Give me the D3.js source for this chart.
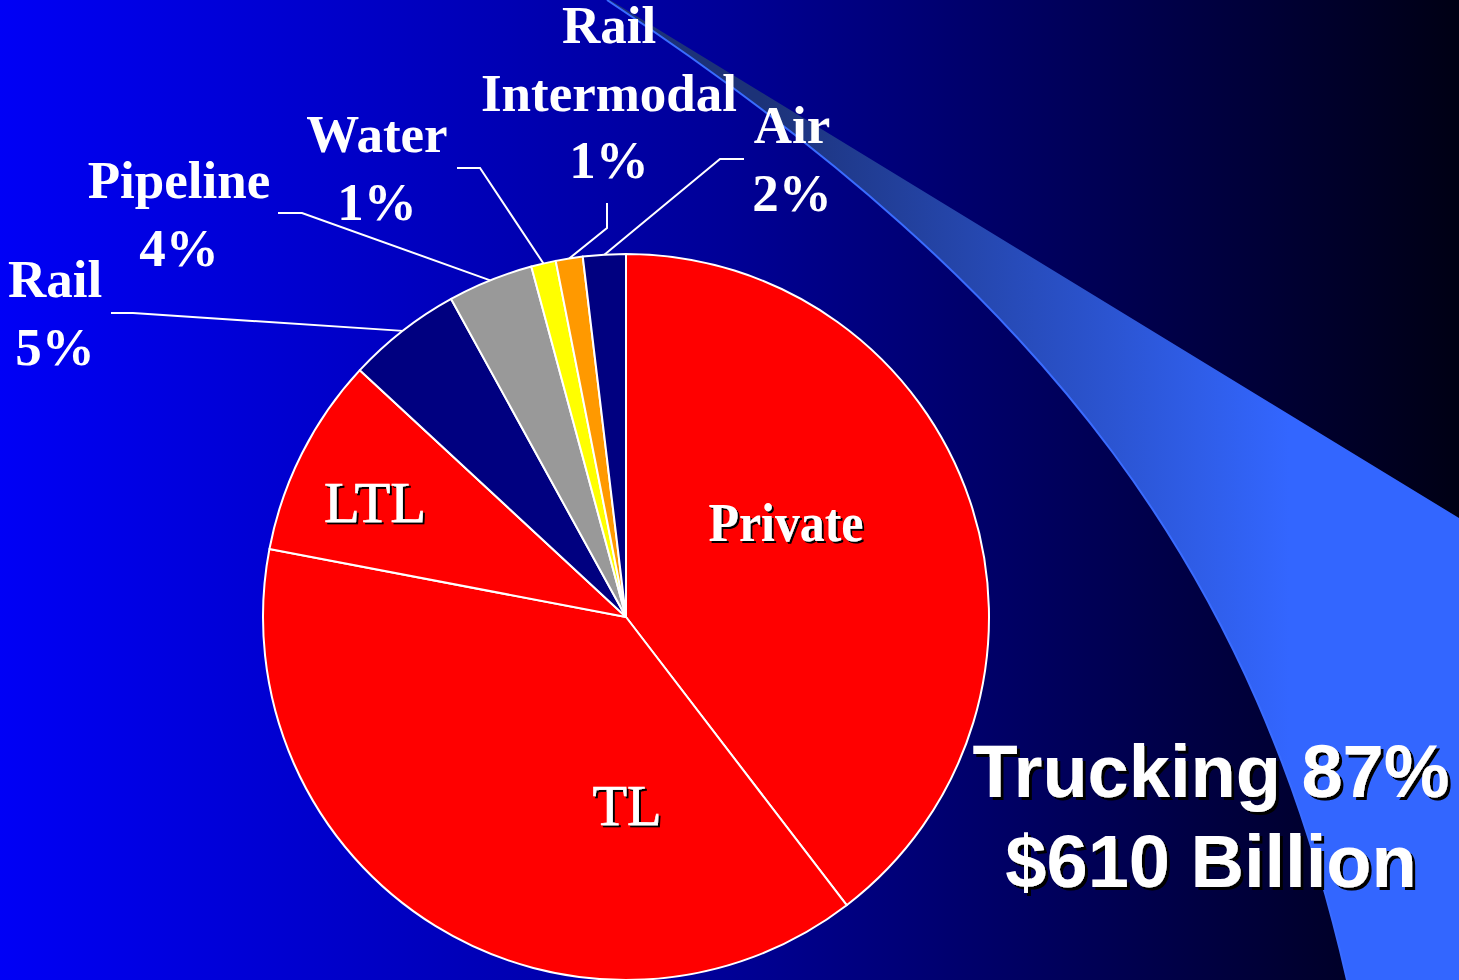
<!DOCTYPE html>
<html>
<head>
<meta charset="utf-8">
<script src="https://cdn.jsdelivr.net/npm/d3@7"></script>
<style>
  html, body { margin: 0; padding: 0; background: #000; }
  svg { display: block; }
</style>
</head>
<body>
<svg id="chart" width="1459" height="980"></svg>
<script>
// ---- data ----
const categories = ["Private", "TL", "LTL", "Rail", "Pipeline", "Water", "Rail Intermodal", "Air"];
const shares     = [39.6, 38.4, 8.9, 5.1, 3.8, 1.1, 1.2, 1.9];
const sliceColors = ["#ff0000", "#ff0000", "#ff0000", "#000080", "#999999", "#ffff00", "#ff9900", "#000080"];
const insideLabels = ["Private", "TL", "LTL"];
const outsideLabels = ["Rail", "Pipeline", "Water", "Rail Intermodal", "Air"];
const summaryLines = ["Trucking 87%", "$610 Billion"];

// ---- layout ----
const W = 1459, H = 980;
const cx = 626, cy = 617, R = 363;

const svg = d3.select("#chart");
const defs = svg.append("defs");

const bg = defs.append("linearGradient").attr("id", "bg")
  .attr("x1", 0).attr("y1", 0).attr("x2", 1).attr("y2", 0);
bg.append("stop").attr("offset", 0).attr("stop-color", "#0000f6");
bg.append("stop").attr("offset", 0.5).attr("stop-color", "#000096");
bg.append("stop").attr("offset", 1).attr("stop-color", "#000014");

const sw = defs.append("linearGradient").attr("id", "swoosh")
  .attr("gradientUnits", "userSpaceOnUse")
  .attr("x1", 760).attr("y1", 0).attr("x2", 1290).attr("y2", 0);
sw.append("stop").attr("offset", 0).attr("stop-color", "#1c3278");
sw.append("stop").attr("offset", 1).attr("stop-color", "#3366ff");

const sh = defs.append("filter").attr("id", "shadow")
  .attr("x", "-10%").attr("y", "-10%").attr("width", "130%").attr("height", "140%");
sh.append("feDropShadow").attr("dx", 2).attr("dy", 2).attr("stdDeviation", 0)
  .attr("flood-color", "#000").attr("flood-opacity", 1);
const sh2 = defs.append("filter").attr("id", "shadow2")
  .attr("x", "-10%").attr("y", "-10%").attr("width", "130%").attr("height", "140%");
sh2.append("feDropShadow").attr("dx", 3).attr("dy", 3).attr("stdDeviation", 0)
  .attr("flood-color", "#000").attr("flood-opacity", 1);

svg.append("rect").attr("width", W).attr("height", H).attr("fill", "url(#bg)");

// decorative swoosh (background ornament)
const sp = d3.path();
sp.moveTo(610, 0);
sp.lineTo(W, 518);
sp.lineTo(W, H);
sp.lineTo(1347, H);
sp.bezierCurveTo(1256, 580, 1060, 300, 607, 0);
sp.closePath();
svg.append("path").attr("d", sp.toString()).attr("fill", "url(#swoosh)");
const ep = d3.path();
ep.moveTo(607, 0);
ep.bezierCurveTo(1060, 300, 1256, 580, 1347, H);
svg.append("path").attr("d", ep.toString()).attr("fill", "none")
  .attr("stroke", "#3a6cff").attr("stroke-width", 2);

// ---- pie ----
const data = categories.map((c, i) => ({ name: c, value: shares[i], color: sliceColors[i] }));
const pie = d3.pie().value(d => d.value).sort(null).startAngle(0).endAngle(2 * Math.PI);
const arcs = pie(data);
const arc = d3.arc().innerRadius(0).outerRadius(R);

const g = svg.append("g").attr("transform", `translate(${cx},${cy})`);
g.selectAll("path.slice").data(arcs).enter().append("path")
  .attr("class", "slice")
  .attr("d", arc)
  .attr("fill", d => d.data.color)
  .attr("stroke", "#ffffff")
  .attr("stroke-width", 2)
  .attr("stroke-linejoin", "round");

// inside labels
const insideLayout = {
  "Private": { x: 786, y: 541, weight: "bold", size: 54, len: 155 },
  "TL":      { x: 627, y: 825, weight: "normal", size: 56, len: 69 },
  "LTL":     { x: 375, y: 522, weight: "normal", size: 56, len: 102 }
};
insideLabels.forEach(name => {
  const L = insideLayout[name];
  svg.append("text")
    .attr("x", L.x).attr("y", L.y)
    .attr("text-anchor", "middle")
    .attr("font-family", "'Liberation Serif', 'Times New Roman', serif")
    .attr("font-weight", L.weight)
    .attr("font-size", L.size)
    .attr("textLength", L.len)
    .attr("lengthAdjust", "spacingAndGlyphs")
    .attr("fill", "#fff")
    .attr("stroke", "#fff")
    .attr("stroke-width", L.weight === "normal" ? 0.6 : 0)
    .attr("filter", "url(#shadow)")
    .text(name);
});

// outside labels with leader lines
const pct = d3.format(".0f");
const outsideLayout = {
  "Rail":            { lines: ["Rail"], lx: 55, ly: 297, elbow: [133, 313], end: [111, 313] },
  "Pipeline":        { lines: ["Pipeline"], lx: 179, ly: 198, elbow: [302, 213], end: [278, 213] },
  "Water":           { lines: ["Water"], lx: 377, ly: 152, elbow: [480, 168], end: [457, 168] },
  "Rail Intermodal": { lines: ["Rail", "Intermodal"], lx: 609, ly: 43, elbow: [607, 228], end: [607, 203] },
  "Air":             { lines: ["Air"], lx: 792, ly: 143, elbow: [720, 159], end: [744, 159] }
};
const lineGap = 67.5;
outsideLabels.forEach(name => {
  const a = arcs.find(d => d.data.name === name);
  const L = outsideLayout[name];
  const mid = (a.startAngle + a.endAngle) / 2;
  const sx = cx + R * Math.sin(mid), sy = cy - R * Math.cos(mid);
  svg.append("polyline")
    .attr("points", [[sx, sy], L.elbow, L.end].map(p => p.join(",")).join(" "))
    .attr("fill", "none").attr("stroke", "#fff").attr("stroke-width", 2);
  const lines = L.lines.concat([pct(a.data.value) + "%"]);
  const t = svg.append("text")
    .attr("text-anchor", "middle")
    .attr("font-family", "'Liberation Serif', 'Times New Roman', serif")
    .attr("font-weight", "bold")
    .attr("font-size", 53)
    .attr("fill", "#fff");
  lines.forEach((s, i) => {
    t.append("tspan").attr("x", L.lx).attr("y", L.ly + i * lineGap).text(s);
  });
});

// summary text
const summary = svg.append("text")
  .attr("text-anchor", "middle")
  .attr("font-family", "'Liberation Sans', Arial, sans-serif")
  .attr("font-weight", "bold")
  .attr("font-size", 74)
  .attr("fill", "#fff")
  .attr("filter", "url(#shadow2)");
summaryLines.forEach((s, i) => {
  summary.append("tspan").attr("x", 1211).attr("y", 797 + i * 90).text(s);
});
</script>
</body>
</html>
